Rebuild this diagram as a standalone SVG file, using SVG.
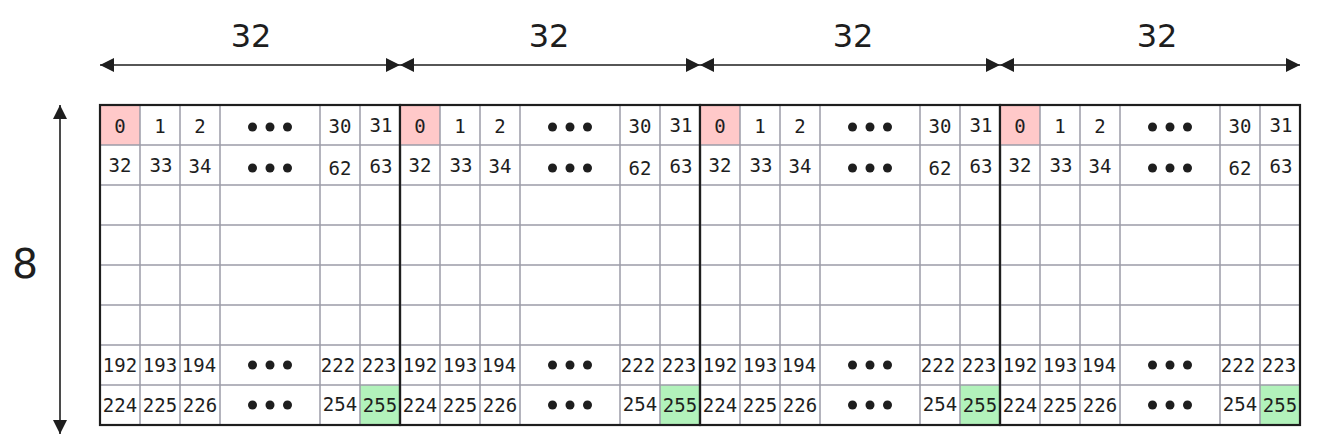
<svg xmlns="http://www.w3.org/2000/svg" xmlns:xlink="http://www.w3.org/1999/xlink" width="1319" height="446" viewBox="0 0 1319 446">
<style>
.t{font-family:"DejaVu Sans Mono","Liberation Mono",monospace;font-size:19px;fill:#1e1e1e;text-anchor:middle}
.lbl{font-family:"DejaVu Sans","Liberation Sans",sans-serif;fill:#1e1e1e;text-anchor:middle}
.grid{stroke:#9c9ca8;stroke-width:1.5;fill:none}
.frame{stroke:#1e1e1e;stroke-width:2.2;fill:none}
.arr{stroke:#1e1e1e;stroke-width:1.6;fill:none}
.red{fill:#ffc9c9}
.green{fill:#b2f2bb}
</style>
<defs>
<marker id="ah" viewBox="0 0 14 14" refX="14" refY="7" markerWidth="14" markerHeight="14" markerUnits="userSpaceOnUse" orient="auto-start-reverse">
<path d="M0,0 L14,7 L0,14 Z" fill="#1e1e1e"/>
</marker>
<g id="dots" fill="#1e1e1e"><circle cx="-17.5" cy="0" r="4.5"/><circle cx="0" cy="0" r="4.5"/><circle cx="17.5" cy="0" r="4.5"/></g>
<g id="gridlines" class="grid">
<path d="M40,0V320M80,0V320M120,0V320M220,0V320M260,0V320"/>
<path d="M0,40H300M0,80H300M0,120H300M0,160H300M0,200H300M0,240H300M0,280H300"/>
</g>
<g id="content">
<rect class="red" x="0" y="0" width="40" height="40"/>
<rect class="green" x="260" y="280" width="40" height="40"/>
<use xlink:href="#gridlines"/>
<text class="t" x="20" y="28">0</text>
<text class="t" x="60" y="28">1</text>
<text class="t" x="100" y="28">2</text>
<use xlink:href="#dots" x="170" y="22"/>
<text class="t" x="240" y="28">30</text>
<text class="t" x="281" y="27">31</text>
<text class="t" x="20" y="67">32</text>
<text class="t" x="61" y="67">33</text>
<text class="t" x="100" y="68">34</text>
<use xlink:href="#dots" x="170" y="63"/>
<text class="t" x="240" y="70">62</text>
<text class="t" x="281" y="68">63</text>
<text class="t" x="20" y="267">192</text>
<text class="t" x="60" y="267">193</text>
<text class="t" x="99" y="267">194</text>
<use xlink:href="#dots" x="170" y="260"/>
<text class="t" x="238" y="267">222</text>
<text class="t" x="279" y="267">223</text>
<text class="t" x="20" y="307">224</text>
<text class="t" x="60" y="307">225</text>
<text class="t" x="100" y="307">226</text>
<use xlink:href="#dots" x="170" y="300"/>
<text class="t" x="240" y="306">254</text>
<text class="t" x="280" y="307">255</text>
<rect class="frame" x="0" y="0" width="300" height="320"/>
</g>
</defs>
<rect width="1319" height="446" fill="#ffffff"/>
<g id="block1" transform="translate(100,105)"><use xlink:href="#content"/></g>
<g id="block2" transform="translate(400,105)"><use xlink:href="#content"/></g>
<g id="block3" transform="translate(700,105)"><use xlink:href="#content"/></g>
<g id="block4" transform="translate(1000,105)"><use xlink:href="#content"/></g>
<g id="connectors">
<line class="arr" x1="100" y1="65" x2="400" y2="65" marker-start="url(#ah)" marker-end="url(#ah)"/>
<line class="arr" x1="400" y1="65" x2="700" y2="65" marker-start="url(#ah)" marker-end="url(#ah)"/>
<line class="arr" x1="700" y1="65" x2="1000" y2="65" marker-start="url(#ah)" marker-end="url(#ah)"/>
<line class="arr" x1="1000" y1="65" x2="1300" y2="65" marker-start="url(#ah)" marker-end="url(#ah)"/>
<line class="arr" x1="60" y1="105" x2="60" y2="434" marker-start="url(#ah)" marker-end="url(#ah)"/>
</g>
<g id="labels">
<text class="lbl" x="251" y="47" font-size="32">32</text>
<text class="lbl" x="549" y="47" font-size="32">32</text>
<text class="lbl" x="853" y="47" font-size="32">32</text>
<text class="lbl" x="1157" y="47" font-size="32">32</text>
<text class="lbl" x="25" y="278" font-size="41">8</text>
</g>
</svg>
